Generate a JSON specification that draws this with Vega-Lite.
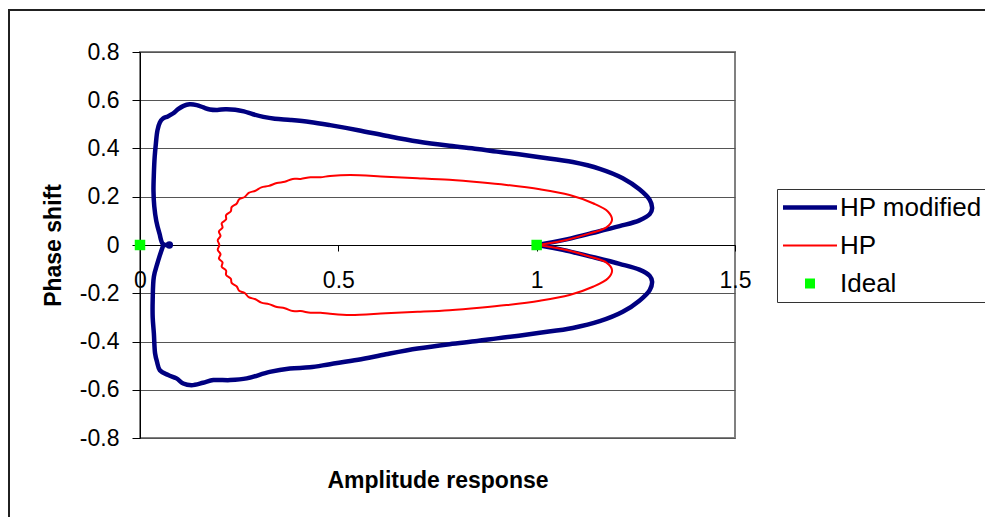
{
  "$schema": "https://vega.github.io/schema/vega-lite/v6.json",
  "autosize": {"type": "none"},
  "padding": {"left": 140, "top": 52, "right": 250, "bottom": 79},
  "width": 595,
  "height": 386,
  "background": "white",
  "config": {
    "font": "Liberation Sans",
    "view": {"stroke": "#808080", "strokeWidth": 2},
    "axis": {"labelFont": "Liberation Sans", "titleFont": "Liberation Sans", "labelColor": "black", "titleColor": "black", "domainColor": "black", "tickColor": "black", "labelOverlap": false}
  },
  "datasets": {
    "curves": [
      {"s": "HP modified", "i": 0, "x": 0.074, "y": 0},
      {"s": "HP modified", "i": 1, "x": 0.058, "y": 0.004},
      {"s": "HP modified", "i": 2, "x": 0.049, "y": 0.048},
      {"s": "HP modified", "i": 3, "x": 0.041, "y": 0.1},
      {"s": "HP modified", "i": 4, "x": 0.036, "y": 0.16},
      {"s": "HP modified", "i": 5, "x": 0.034, "y": 0.225},
      {"s": "HP modified", "i": 6, "x": 0.035, "y": 0.297},
      {"s": "HP modified", "i": 7, "x": 0.037, "y": 0.365},
      {"s": "HP modified", "i": 8, "x": 0.04, "y": 0.42},
      {"s": "HP modified", "i": 9, "x": 0.044, "y": 0.475},
      {"s": "HP modified", "i": 10, "x": 0.05, "y": 0.508},
      {"s": "HP modified", "i": 11, "x": 0.058, "y": 0.524},
      {"s": "HP modified", "i": 12, "x": 0.07, "y": 0.533},
      {"s": "HP modified", "i": 13, "x": 0.083, "y": 0.545},
      {"s": "HP modified", "i": 14, "x": 0.096, "y": 0.563},
      {"s": "HP modified", "i": 15, "x": 0.11, "y": 0.577},
      {"s": "HP modified", "i": 16, "x": 0.125, "y": 0.583},
      {"s": "HP modified", "i": 17, "x": 0.143, "y": 0.58},
      {"s": "HP modified", "i": 18, "x": 0.16, "y": 0.57},
      {"s": "HP modified", "i": 19, "x": 0.176, "y": 0.562},
      {"s": "HP modified", "i": 20, "x": 0.195, "y": 0.56},
      {"s": "HP modified", "i": 21, "x": 0.215, "y": 0.563},
      {"s": "HP modified", "i": 22, "x": 0.24, "y": 0.561},
      {"s": "HP modified", "i": 23, "x": 0.262, "y": 0.554},
      {"s": "HP modified", "i": 24, "x": 0.285, "y": 0.542},
      {"s": "HP modified", "i": 25, "x": 0.311, "y": 0.531},
      {"s": "HP modified", "i": 26, "x": 0.34, "y": 0.523},
      {"s": "HP modified", "i": 27, "x": 0.38, "y": 0.518},
      {"s": "HP modified", "i": 28, "x": 0.428, "y": 0.51},
      {"s": "HP modified", "i": 29, "x": 0.479, "y": 0.497},
      {"s": "HP modified", "i": 30, "x": 0.55, "y": 0.476},
      {"s": "HP modified", "i": 31, "x": 0.62, "y": 0.453},
      {"s": "HP modified", "i": 32, "x": 0.7, "y": 0.429},
      {"s": "HP modified", "i": 33, "x": 0.78, "y": 0.411},
      {"s": "HP modified", "i": 34, "x": 0.85, "y": 0.398},
      {"s": "HP modified", "i": 35, "x": 0.9, "y": 0.387},
      {"s": "HP modified", "i": 36, "x": 0.95, "y": 0.377},
      {"s": "HP modified", "i": 37, "x": 1.008, "y": 0.364},
      {"s": "HP modified", "i": 38, "x": 1.091, "y": 0.344},
      {"s": "HP modified", "i": 39, "x": 1.159, "y": 0.316},
      {"s": "HP modified", "i": 40, "x": 1.217, "y": 0.277},
      {"s": "HP modified", "i": 41, "x": 1.259, "y": 0.231},
      {"s": "HP modified", "i": 42, "x": 1.285, "y": 0.187},
      {"s": "HP modified", "i": 43, "x": 1.291, "y": 0.152},
      {"s": "HP modified", "i": 44, "x": 1.285, "y": 0.128},
      {"s": "HP modified", "i": 45, "x": 1.259, "y": 0.102},
      {"s": "HP modified", "i": 46, "x": 1.209, "y": 0.078},
      {"s": "HP modified", "i": 47, "x": 1.134, "y": 0.047},
      {"s": "HP modified", "i": 48, "x": 1.066, "y": 0.02},
      {"s": "HP modified", "i": 49, "x": 1.012, "y": 0.003},
      {"s": "HP modified", "i": 50, "x": 1.0, "y": 0},
      {"s": "HP modified", "i": 51, "x": 1.012, "y": -0.003},
      {"s": "HP modified", "i": 52, "x": 1.066, "y": -0.02},
      {"s": "HP modified", "i": 53, "x": 1.134, "y": -0.047},
      {"s": "HP modified", "i": 54, "x": 1.209, "y": -0.078},
      {"s": "HP modified", "i": 55, "x": 1.259, "y": -0.102},
      {"s": "HP modified", "i": 56, "x": 1.285, "y": -0.128},
      {"s": "HP modified", "i": 57, "x": 1.291, "y": -0.152},
      {"s": "HP modified", "i": 58, "x": 1.285, "y": -0.187},
      {"s": "HP modified", "i": 59, "x": 1.259, "y": -0.231},
      {"s": "HP modified", "i": 60, "x": 1.217, "y": -0.277},
      {"s": "HP modified", "i": 61, "x": 1.159, "y": -0.316},
      {"s": "HP modified", "i": 62, "x": 1.091, "y": -0.344},
      {"s": "HP modified", "i": 63, "x": 1.008, "y": -0.364},
      {"s": "HP modified", "i": 64, "x": 0.95, "y": -0.377},
      {"s": "HP modified", "i": 65, "x": 0.9, "y": -0.387},
      {"s": "HP modified", "i": 66, "x": 0.85, "y": -0.398},
      {"s": "HP modified", "i": 67, "x": 0.78, "y": -0.411},
      {"s": "HP modified", "i": 68, "x": 0.7, "y": -0.429},
      {"s": "HP modified", "i": 69, "x": 0.62, "y": -0.453},
      {"s": "HP modified", "i": 70, "x": 0.55, "y": -0.476},
      {"s": "HP modified", "i": 71, "x": 0.479, "y": -0.494},
      {"s": "HP modified", "i": 72, "x": 0.428, "y": -0.507},
      {"s": "HP modified", "i": 73, "x": 0.378, "y": -0.512},
      {"s": "HP modified", "i": 74, "x": 0.327, "y": -0.526},
      {"s": "HP modified", "i": 75, "x": 0.269, "y": -0.553},
      {"s": "HP modified", "i": 76, "x": 0.227, "y": -0.56},
      {"s": "HP modified", "i": 77, "x": 0.185, "y": -0.56},
      {"s": "HP modified", "i": 78, "x": 0.159, "y": -0.571},
      {"s": "HP modified", "i": 79, "x": 0.13, "y": -0.581},
      {"s": "HP modified", "i": 80, "x": 0.109, "y": -0.574},
      {"s": "HP modified", "i": 81, "x": 0.092, "y": -0.553},
      {"s": "HP modified", "i": 82, "x": 0.071, "y": -0.539},
      {"s": "HP modified", "i": 83, "x": 0.05, "y": -0.519},
      {"s": "HP modified", "i": 84, "x": 0.043, "y": -0.485},
      {"s": "HP modified", "i": 85, "x": 0.038, "y": -0.449},
      {"s": "HP modified", "i": 86, "x": 0.035, "y": -0.367},
      {"s": "HP modified", "i": 87, "x": 0.032, "y": -0.3},
      {"s": "HP modified", "i": 88, "x": 0.032, "y": -0.228},
      {"s": "HP modified", "i": 89, "x": 0.035, "y": -0.131},
      {"s": "HP modified", "i": 90, "x": 0.044, "y": -0.075},
      {"s": "HP modified", "i": 91, "x": 0.049, "y": -0.048},
      {"s": "HP modified", "i": 92, "x": 0.058, "y": -0.004},
      {"s": "HP", "i": 0, "x": 1.0, "y": 0},
      {"s": "HP", "i": 1, "x": 1.016, "y": 0.003},
      {"s": "HP", "i": 2, "x": 1.075, "y": 0.021},
      {"s": "HP", "i": 3, "x": 1.134, "y": 0.048},
      {"s": "HP", "i": 4, "x": 1.176, "y": 0.073},
      {"s": "HP", "i": 5, "x": 1.19, "y": 0.104},
      {"s": "HP", "i": 6, "x": 1.18, "y": 0.138},
      {"s": "HP", "i": 7, "x": 1.142, "y": 0.173},
      {"s": "HP", "i": 8, "x": 1.083, "y": 0.207},
      {"s": "HP", "i": 9, "x": 1.008, "y": 0.231},
      {"s": "HP", "i": 10, "x": 0.924, "y": 0.249},
      {"s": "HP", "i": 11, "x": 0.856, "y": 0.26},
      {"s": "HP", "i": 12, "x": 0.78, "y": 0.27},
      {"s": "HP", "i": 13, "x": 0.7, "y": 0.277},
      {"s": "HP", "i": 14, "x": 0.62, "y": 0.283},
      {"s": "HP", "i": 15, "x": 0.53, "y": 0.29},
      {"s": "HP", "i": 16, "x": 0.479, "y": 0.286},
      {"s": "HP", "i": 17, "x": 0.455, "y": 0.281},
      {"s": "HP", "i": 18, "x": 0.43, "y": 0.281},
      {"s": "HP", "i": 19, "x": 0.405, "y": 0.274},
      {"s": "HP", "i": 20, "x": 0.385, "y": 0.274},
      {"s": "HP", "i": 21, "x": 0.365, "y": 0.262},
      {"s": "HP", "i": 22, "x": 0.345, "y": 0.257},
      {"s": "HP", "i": 23, "x": 0.325, "y": 0.245},
      {"s": "HP", "i": 24, "x": 0.306, "y": 0.239},
      {"s": "HP", "i": 25, "x": 0.291, "y": 0.225},
      {"s": "HP", "i": 26, "x": 0.274, "y": 0.216},
      {"s": "HP", "i": 27, "x": 0.264, "y": 0.199},
      {"s": "HP", "i": 28, "x": 0.25, "y": 0.19},
      {"s": "HP", "i": 29, "x": 0.244, "y": 0.172},
      {"s": "HP", "i": 30, "x": 0.231, "y": 0.157},
      {"s": "HP", "i": 31, "x": 0.229, "y": 0.14},
      {"s": "HP", "i": 32, "x": 0.217, "y": 0.124},
      {"s": "HP", "i": 33, "x": 0.217, "y": 0.106},
      {"s": "HP", "i": 34, "x": 0.206, "y": 0.09},
      {"s": "HP", "i": 35, "x": 0.208, "y": 0.072},
      {"s": "HP", "i": 36, "x": 0.199, "y": 0.056},
      {"s": "HP", "i": 37, "x": 0.203, "y": 0.038},
      {"s": "HP", "i": 38, "x": 0.196, "y": 0.02},
      {"s": "HP", "i": 39, "x": 0.2, "y": 0},
      {"s": "HP", "i": 40, "x": 0.196, "y": -0.02},
      {"s": "HP", "i": 41, "x": 0.203, "y": -0.038},
      {"s": "HP", "i": 42, "x": 0.199, "y": -0.056},
      {"s": "HP", "i": 43, "x": 0.208, "y": -0.072},
      {"s": "HP", "i": 44, "x": 0.206, "y": -0.09},
      {"s": "HP", "i": 45, "x": 0.217, "y": -0.106},
      {"s": "HP", "i": 46, "x": 0.217, "y": -0.124},
      {"s": "HP", "i": 47, "x": 0.229, "y": -0.14},
      {"s": "HP", "i": 48, "x": 0.231, "y": -0.157},
      {"s": "HP", "i": 49, "x": 0.244, "y": -0.172},
      {"s": "HP", "i": 50, "x": 0.25, "y": -0.19},
      {"s": "HP", "i": 51, "x": 0.264, "y": -0.199},
      {"s": "HP", "i": 52, "x": 0.274, "y": -0.216},
      {"s": "HP", "i": 53, "x": 0.291, "y": -0.225},
      {"s": "HP", "i": 54, "x": 0.306, "y": -0.239},
      {"s": "HP", "i": 55, "x": 0.325, "y": -0.245},
      {"s": "HP", "i": 56, "x": 0.345, "y": -0.257},
      {"s": "HP", "i": 57, "x": 0.365, "y": -0.262},
      {"s": "HP", "i": 58, "x": 0.385, "y": -0.274},
      {"s": "HP", "i": 59, "x": 0.405, "y": -0.274},
      {"s": "HP", "i": 60, "x": 0.43, "y": -0.281},
      {"s": "HP", "i": 61, "x": 0.455, "y": -0.281},
      {"s": "HP", "i": 62, "x": 0.479, "y": -0.285},
      {"s": "HP", "i": 63, "x": 0.53, "y": -0.29},
      {"s": "HP", "i": 64, "x": 0.62, "y": -0.283},
      {"s": "HP", "i": 65, "x": 0.7, "y": -0.277},
      {"s": "HP", "i": 66, "x": 0.78, "y": -0.27},
      {"s": "HP", "i": 67, "x": 0.856, "y": -0.26},
      {"s": "HP", "i": 68, "x": 0.924, "y": -0.249},
      {"s": "HP", "i": 69, "x": 1.008, "y": -0.231},
      {"s": "HP", "i": 70, "x": 1.083, "y": -0.207},
      {"s": "HP", "i": 71, "x": 1.142, "y": -0.173},
      {"s": "HP", "i": 72, "x": 1.18, "y": -0.138},
      {"s": "HP", "i": 73, "x": 1.19, "y": -0.104},
      {"s": "HP", "i": 74, "x": 1.176, "y": -0.073},
      {"s": "HP", "i": 75, "x": 1.134, "y": -0.048},
      {"s": "HP", "i": 76, "x": 1.075, "y": -0.021},
      {"s": "HP", "i": 77, "x": 1.016, "y": -0.003},
      {"s": "HP", "i": 78, "x": 1.0, "y": 0},
      {"s": "Ideal", "i": 0, "x": 0, "y": 0},
      {"s": "Ideal", "i": 1, "x": 1, "y": 0}
    ]
  },
  "data": {"name": "curves"},
  "encoding": {
    "x": {"field": "x", "type": "quantitative", "scale": {"domain": [0, 1.5], "nice": false, "zero": false},
      "axis": {"values": [0, 0.5, 1, 1.5], "labelExpr": "'' + datum.value", "offset": -193, "grid": false,
        "tickSize": 6, "labelPadding": 18, "labelFontSize": 23, "labelFlush": false,
        "title": "Amplitude response", "titleFontSize": 23, "titleFontWeight": "bold",
        "titleX": 297.5, "titleY": 242.5, "titleBaseline": "alphabetic", "titleAlign": "center"}},
    "y": {"field": "y", "type": "quantitative", "scale": {"domain": [-0.8, 0.8], "nice": false, "zero": false},
      "axis": {"values": [-0.8, -0.6, -0.4, -0.2, 0, 0.2, 0.4, 0.6, 0.8], "labelExpr": "'' + datum.value",
        "grid": true, "gridColor": "#555555", "gridWidth": 1, "tickSize": 8, "labelPadding": 13, "labelFontSize": 23,
        "title": "Phase shift", "titleFontSize": 23, "titleFontWeight": "bold",
        "titleX": -80, "titleY": 193, "titleBaseline": "alphabetic", "titleAlign": "center", "titleAngle": -90}}
  },
  "layer": [
    {
      "mark": {"type": "rect", "fill": null, "stroke": "#222222", "strokeWidth": 1.5, "clip": false},
      "encoding": {
        "x": {"datum": -0.3303, "type": "quantitative"},
        "x2": {"datum": 2.5},
        "y": {"datum": 0.974, "type": "quantitative"},
        "y2": {"datum": -1.6}
      }
    },
    {
      "transform": [{"filter": "datum.s === 'HP modified'"}],
      "mark": {"type": "line", "strokeWidth": 4.5, "interpolate": "catmull-rom", "strokeJoin": "round", "strokeCap": "round"},
      "encoding": {
        "order": {"field": "i", "type": "quantitative"},
        "color": {"field": "s", "type": "nominal",
          "scale": {"domain": ["HP modified", "HP", "Ideal"], "range": ["#000080", "#FF0000", "#00FF00"]},
          "legend": {"title": null, "orient": "none", "legendX": 637, "legendY": 137,
            "strokeColor": "#333333", "padding": 5.5, "fillColor": "white",
            "labelFont": "Liberation Sans", "labelFontSize": 26, "labelColor": "black", "labelOffset": 31.5,
            "symbolType": "stroke", "symbolSize": 2916, "rowPadding": 12,
            "encode": {"symbols": {"update": {
              "x": {"value": 27.5},
              "shape": {"signal": "datum.value === 'Ideal' ? 'square' : 'stroke'"},
              "size": {"signal": "datum.value === 'Ideal' ? 100 : 2916"},
              "strokeWidth": {"signal": "datum.value === 'HP modified' ? 4.5 : datum.value === 'HP' ? 2 : 0"},
              "stroke": {"signal": "datum.value === 'HP modified' ? '#000080' : datum.value === 'HP' ? '#FF0000' : 'transparent'"},
              "fill": {"signal": "datum.value === 'Ideal' ? '#00FF00' : 'transparent'"},
              "opacity": {"value": 1}
            }}}}}
      }
    },
    {
      "transform": [{"filter": "datum.s === 'HP'"}],
      "mark": {"type": "line", "strokeWidth": 2, "interpolate": "catmull-rom", "strokeJoin": "round"},
      "encoding": {
        "order": {"field": "i", "type": "quantitative"},
        "color": {"field": "s", "type": "nominal"}
      }
    },
    {
      "transform": [{"filter": "datum.s === 'HP modified' && datum.i === 0"}],
      "mark": {"type": "point", "filled": true, "size": 55, "opacity": 1, "color": "#000080"},
      "encoding": {}
    },
    {
      "transform": [{"filter": "datum.s === 'Ideal'"}],
      "mark": {"type": "point", "shape": "square", "filled": true, "size": 110, "opacity": 1},
      "encoding": {
        "color": {"field": "s", "type": "nominal"}
      }
    }
  ]
}
